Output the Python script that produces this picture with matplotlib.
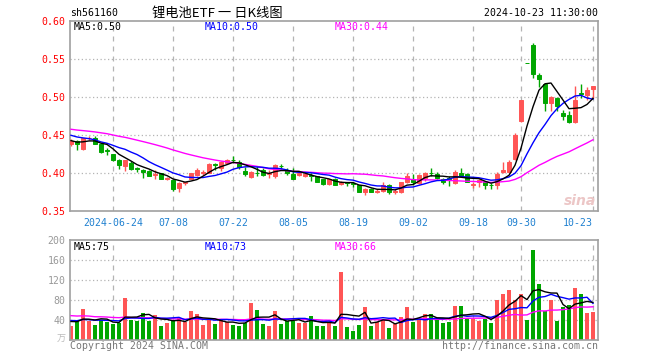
import matplotlib
matplotlib.use('Agg')
import matplotlib.pyplot as plt
import numpy as np
import pandas as pd

# ---------------- data ----------------
dates = [
    '2024-06-13', '2024-06-14', '2024-06-17', '2024-06-18', '2024-06-19', '2024-06-20', '2024-06-21',
    '2024-06-24', '2024-06-25', '2024-06-26', '2024-06-27', '2024-06-28',
    '2024-07-01', '2024-07-02', '2024-07-03', '2024-07-04', '2024-07-05',
    '2024-07-08', '2024-07-09', '2024-07-10', '2024-07-11', '2024-07-12',
    '2024-07-15', '2024-07-16', '2024-07-17', '2024-07-18', '2024-07-19',
    '2024-07-22', '2024-07-23', '2024-07-24', '2024-07-25', '2024-07-26',
    '2024-07-29', '2024-07-30', '2024-07-31', '2024-08-01', '2024-08-02',
    '2024-08-05', '2024-08-06', '2024-08-07', '2024-08-08', '2024-08-09',
    '2024-08-12', '2024-08-13', '2024-08-14', '2024-08-15', '2024-08-16',
    '2024-08-19', '2024-08-20', '2024-08-21', '2024-08-22', '2024-08-23',
    '2024-08-26', '2024-08-27', '2024-08-28', '2024-08-29', '2024-08-30',
    '2024-09-02', '2024-09-03', '2024-09-04', '2024-09-05', '2024-09-06',
    '2024-09-09', '2024-09-10', '2024-09-11', '2024-09-12', '2024-09-13',
    '2024-09-18', '2024-09-19', '2024-09-20',
    '2024-09-23', '2024-09-24', '2024-09-25', '2024-09-26', '2024-09-27',
    '2024-09-30',
    '2024-10-08', '2024-10-09', '2024-10-10', '2024-10-11',
    '2024-10-14', '2024-10-15', '2024-10-16', '2024-10-17', '2024-10-18',
    '2024-10-21', '2024-10-22', '2024-10-23',
]

opens = [0.438, 0.443, 0.432, 0.446, 0.447, 0.439, 0.431, 0.425, 0.418, 0.410,
         0.414, 0.407, 0.404, 0.403, 0.398, 0.400, 0.392, 0.391, 0.381, 0.387,
         0.393, 0.398, 0.401, 0.401, 0.412, 0.407, 0.413, 0.418, 0.415, 0.403,
         0.395, 0.401, 0.405, 0.399, 0.397, 0.410, 0.404, 0.399, 0.398, 0.397,
         0.398, 0.396, 0.392, 0.386, 0.393, 0.386, 0.388, 0.387, 0.384, 0.376,
         0.380, 0.376, 0.377, 0.385, 0.376, 0.376, 0.388, 0.393, 0.387, 0.394,
         0.401, 0.399, 0.392, 0.394, 0.387, 0.401, 0.399, 0.385, 0.389, 0.389,
         0.385, 0.385, 0.402, 0.402, 0.419, 0.469, 0.545, 0.569, 0.529, 0.518,
         0.493, 0.499, 0.480, 0.477, 0.467, 0.506, 0.503, 0.511]
highs = [0.445, 0.444, 0.447, 0.449, 0.449, 0.440, 0.433, 0.426, 0.419, 0.418,
         0.416, 0.408, 0.406, 0.404, 0.404, 0.401, 0.395, 0.392, 0.388, 0.389,
         0.401, 0.407, 0.404, 0.413, 0.414, 0.416, 0.419, 0.423, 0.417, 0.408,
         0.403, 0.409, 0.407, 0.404, 0.412, 0.412, 0.407, 0.407, 0.401, 0.401,
         0.400, 0.397, 0.393, 0.393, 0.394, 0.390, 0.389, 0.388, 0.385, 0.381,
         0.381, 0.379, 0.389, 0.386, 0.379, 0.389, 0.401, 0.399, 0.399, 0.402,
         0.407, 0.402, 0.394, 0.396, 0.404, 0.407, 0.400, 0.389, 0.393, 0.390,
         0.387, 0.402, 0.415, 0.417, 0.453, 0.497, 0.545, 0.572, 0.532, 0.519,
         0.502, 0.500, 0.483, 0.482, 0.515, 0.517, 0.514, 0.515]
lows = [0.436, 0.431, 0.431, 0.444, 0.438, 0.427, 0.424, 0.416, 0.406, 0.403,
        0.405, 0.402, 0.394, 0.396, 0.393, 0.392, 0.391, 0.377, 0.376, 0.385,
        0.392, 0.397, 0.398, 0.400, 0.405, 0.403, 0.412, 0.413, 0.406, 0.397,
        0.394, 0.396, 0.396, 0.394, 0.394, 0.406, 0.398, 0.392, 0.397, 0.395,
        0.390, 0.388, 0.385, 0.385, 0.384, 0.384, 0.383, 0.382, 0.375, 0.372,
        0.375, 0.374, 0.376, 0.373, 0.373, 0.374, 0.387, 0.385, 0.386, 0.390,
        0.396, 0.393, 0.386, 0.383, 0.386, 0.396, 0.388, 0.381, 0.382, 0.379,
        0.380, 0.379, 0.400, 0.400, 0.418, 0.468, 0.545, 0.525, 0.514, 0.482,
        0.482, 0.482, 0.470, 0.466, 0.466, 0.499, 0.496, 0.499]
closes = [0.443, 0.438, 0.446, 0.447, 0.439, 0.428, 0.430, 0.417, 0.411, 0.417,
          0.406, 0.406, 0.402, 0.397, 0.399, 0.393, 0.394, 0.380, 0.387, 0.388,
          0.400, 0.404, 0.402, 0.412, 0.411, 0.415, 0.417, 0.417, 0.408, 0.399,
          0.402, 0.400, 0.398, 0.400, 0.411, 0.409, 0.400, 0.393, 0.400, 0.399,
          0.397, 0.389, 0.386, 0.392, 0.385, 0.389, 0.387, 0.386, 0.376, 0.380,
          0.376, 0.377, 0.385, 0.376, 0.377, 0.388, 0.396, 0.389, 0.398, 0.401,
          0.400, 0.394, 0.388, 0.393, 0.402, 0.397, 0.389, 0.386, 0.391, 0.385,
          0.384, 0.399, 0.404, 0.415, 0.451, 0.496, 0.545, 0.531, 0.524, 0.493,
          0.501, 0.489, 0.475, 0.467, 0.496, 0.505, 0.510, 0.515]
# closes before the visible window (only used to seed the moving averages)
prior_closes = [0.470, 0.468, 0.472, 0.466, 0.463, 0.465, 0.468, 0.462, 0.458, 0.460,
                0.463, 0.459, 0.456, 0.460, 0.458, 0.462, 0.457, 0.455, 0.458, 0.459,
                0.460, 0.458, 0.457, 0.455, 0.455, 0.448, 0.444, 0.441, 0.439]

volumes = [29, 40, 62, 39, 30, 41, 37, 32, 35, 84, 40, 39, 54, 39, 50, 28, 35, 40, 44, 37,
           58, 52, 30, 40, 32, 40, 37, 30, 28, 35, 74, 60, 32, 28, 58, 32, 39, 39, 35, 35,
           48, 28, 28, 37, 28, 136, 26, 19, 30, 66, 28, 36, 41, 24, 32, 47, 66, 36, 41, 52,
           52, 41, 35, 36, 68, 68, 45, 43, 39, 43, 35, 80, 92, 100, 80, 92, 40, 180, 112, 58,
           80, 39, 66, 70, 104, 92, 54, 56]
prior_volumes = [62, 48, 55, 70, 45, 52, 58, 47, 50, 66, 49, 53, 44, 60, 57, 48, 51, 55, 46, 54,
                 44, 38, 42, 40, 41, 42, 36, 40, 38]

tick_dates = ['2024-06-24', '2024-07-08', '2024-07-22', '2024-08-05', '2024-08-19',
              '2024-09-02', '2024-09-18', '2024-09-30', '2024-10-23']
tick_labels = ['2024-06-24', '07-08', '07-22', '08-05', '08-19', '09-02', '09-18', '09-30', '10-23']

price_ticks = [0.35, 0.40, 0.45, 0.50, 0.55, 0.60]
price_tick_labels = ['0.35', '0.40', '0.45', '0.50', '0.55', '0.60']
vol_ticks = [40, 80, 120, 160, 200]
vol_tick_labels = ['40', '80', '120', '160', '200']

# ---------------- styling ----------------
RED = '#ff5555'
GREEN = '#00a600'
GRID = '#b4b4b4'
FRAME = '#a0a0a0'
XLAB = '#1f80d0'
MONO = 'DejaVu Sans Mono'
FS = 7.1
W, H = 660, 360

fig = plt.figure(figsize=(6.6, 3.6), dpi=100)
fig.patch.set_facecolor('white')


def px(x, y):
    return x / W, 1 - y / H


ax = fig.add_axes([70 / W, 1 - 211.3 / H, 528 / W, 190 / H])
axv = fig.add_axes([70 / W, 1 - 340 / H, 528 / W, 100 / H])

n = len(closes)
x = np.arange(n)
o = np.array(opens); h = np.array(highs); l = np.array(lows); c = np.array(closes)
up = c > o
cols = [RED if u else GREEN for u in up]

# moving averages
allc = pd.Series(prior_closes + closes)
ma5 = allc.rolling(5).mean().values[-n:]
ma10 = allc.rolling(10).mean().values[-n:]
ma30 = allc.rolling(30).mean().values[-n:]
allv = pd.Series(prior_volumes + volumes)
vma5 = allv.rolling(5).mean().values[-n:]
vma10 = allv.rolling(10).mean().values[-n:]
vma30 = allv.rolling(30).mean().values[-n:]

tick_pos = [dates.index(d) for d in tick_dates]

for a in (ax, axv):
    a.set_xlim(-1 / 6, 87 + 5 / 6)
    for s in a.spines.values():
        s.set_color(FRAME)
        s.set_linewidth(1.2)
    for tp in tick_pos:
        a.axvline(tp, color=GRID, lw=0.9, ls=(0, (4, 4)), zorder=0)

# price panel
ax.set_ylim(0.35, 0.60)
for yv in price_ticks[1:-1]:
    ax.axhline(yv, color=GRID, lw=0.9, ls=(0, (1, 2)), zorder=0)
ax.vlines(x, l, h, colors=cols, lw=1.0, zorder=2)
body_b = np.minimum(o, c)
body_h = np.abs(c - o)
ax.bar(x, body_h, bottom=body_b, width=0.75, color=cols, edgecolor=cols, lw=0.7, zorder=3)
ax.plot(x, ma30, color='#ff00ff', lw=1.0, zorder=4)
ax.plot(x, ma10, color='#0000ff', lw=1.0, zorder=4)
ax.plot(x, ma5, color='black', lw=1.0, zorder=5)

ax.set_yticks(price_ticks)
ax.set_yticklabels(price_tick_labels, color='red', fontfamily=MONO, fontsize=FS)
ax.set_xticks(tick_pos)
ax.set_xticklabels(tick_labels, color=XLAB, fontfamily=MONO, fontsize=FS)
for lab in ax.get_xticklabels()[-1:]:
    lab.set_horizontalalignment('right')
ax.tick_params(axis='both', length=0)
ax.tick_params(axis='y', pad=3.2)
ax.tick_params(axis='x', pad=4.5)

# watermark
ax.text(0.965, 0.055, 'sina', transform=ax.transAxes, ha='center', va='center',
        fontsize=10, fontweight='bold', style='italic', color='#ecc6c6', zorder=1)

# volume panel
axv.set_ylim(0, 200)
for yv in vol_ticks[:-1]:
    axv.axhline(yv, color=GRID, lw=0.9, ls=(0, (1, 2)), zorder=0)
axv.bar(x, volumes, width=0.83, color=cols, lw=0, zorder=2)
axv.plot(x, vma30, color='#ff00ff', lw=1.0, zorder=4)
axv.plot(x, vma10, color='#0000ff', lw=1.0, zorder=4)
axv.plot(x, vma5, color='black', lw=1.0, zorder=5)
axv.set_yticks(vol_ticks)
axv.set_yticklabels(vol_tick_labels, color='#999999', fontfamily=MONO, fontsize=FS)
axv.set_xticks([])
axv.tick_params(axis='both', length=0)
axv.tick_params(axis='y', pad=3.2)

# header texts
fig.text(*px(70, 13.3), 'sh561160', ha='left', va='center', fontfamily=MONO, fontsize=FS, color='black')
fig.text(*px(217, 13), '锂电池ETF 一 日K线图', ha='center', va='center',
         fontfamily=['Noto Sans CJK SC', 'DejaVu Sans'], fontsize=9.5, color='black')
fig.text(*px(598, 13.3), '2024-10-23 11:30:00', ha='right', va='center', fontfamily=MONO, fontsize=FS, color='black')

fig.text(*px(74, 26.5), 'MA5:%.2f' % ma5[-1], ha='left', va='center', fontfamily=MONO, fontsize=FS, color='black')
fig.text(*px(205, 26.5), 'MA10:%.2f' % ma10[-1], ha='left', va='center', fontfamily=MONO, fontsize=FS, color='#0000ff')
fig.text(*px(335, 26.5), 'MA30:%.2f' % ma30[-1], ha='left', va='center', fontfamily=MONO, fontsize=FS, color='#ff00ff')

fig.text(*px(74, 246.7), 'MA5:%d' % round(vma5[-1]), ha='left', va='center', fontfamily=MONO, fontsize=FS, color='black')
fig.text(*px(205, 246.7), 'MA10:%d' % round(vma10[-1]), ha='left', va='center', fontfamily=MONO, fontsize=FS, color='#0000ff')
fig.text(*px(335, 246.7), 'MA30:%d' % round(vma30[-1]), ha='left', va='center', fontfamily=MONO, fontsize=FS, color='#ff00ff')

fig.text(*px(66, 339), '万', ha='right', va='center', fontfamily=['Noto Sans CJK SC', 'DejaVu Sans'],
         fontsize=6.5, color='#bbbbbb')
fig.text(*px(70, 346), 'Copyright 2024 SINA.COM', ha='left', va='center', fontfamily=MONO, fontsize=FS, color='#777777')
fig.text(*px(598, 346), 'http://finance.sina.com.cn', ha='right', va='center', fontfamily=MONO, fontsize=FS, color='#777777')

fig.savefig('out.png', dpi=100)
